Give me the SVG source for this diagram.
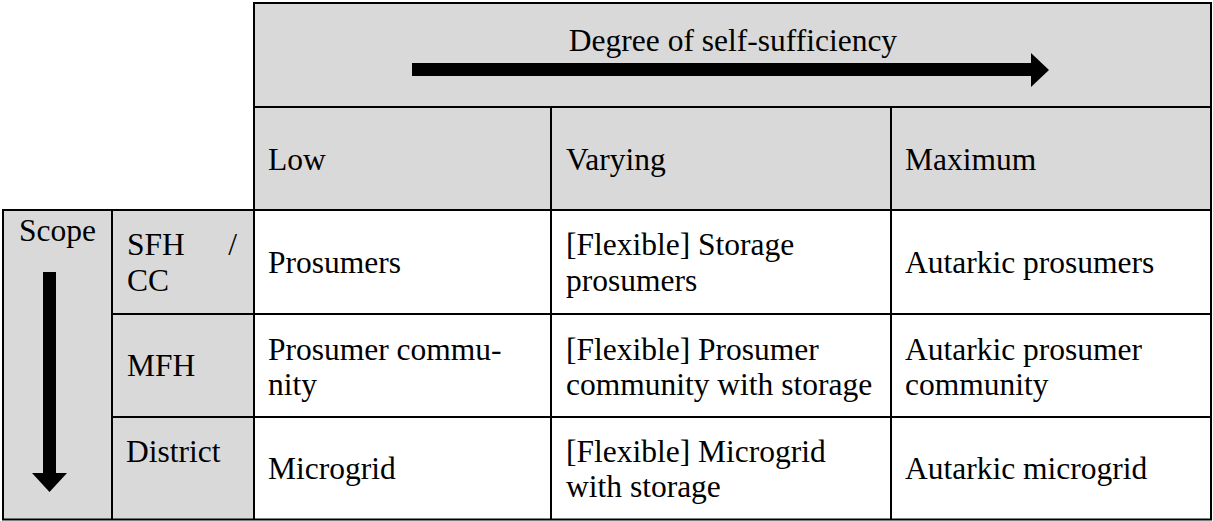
<svg xmlns="http://www.w3.org/2000/svg" width="1213" height="521" viewBox="0 0 1213 521">
<style>
.g{fill:#d9d9d9}
.w{fill:#ffffff}
.ln{stroke:#000;stroke-width:2;fill:none}
.t{font-family:"Liberation Serif","Times New Roman",serif;font-size:31.5px;fill:#000}
.ar{fill:#000}
</style>
<rect x="0" y="0" width="1213" height="521" fill="#ffffff"/>
<g id="header">
<rect class="g" x="254" y="3" width="957" height="207"/>
<text class="t" x="733" y="51" text-anchor="middle">Degree of self-sufficiency</text>
</g>
<g id="col-low"><text class="t" x="268" y="170">Low</text></g>
<g id="col-varying"><text class="t" x="566" y="170">Varying</text></g>
<g id="col-maximum"><text class="t" x="905" y="170">Maximum</text></g>
<g id="scope">
<rect class="g" x="3" y="210" width="251" height="310"/>
<text class="t" x="19" y="241">Scope</text>
</g>
<g id="row-sfh">
<text class="t" x="127" y="255">SFH</text><text class="t" x="237" y="255" text-anchor="end">/</text>
<text class="t" x="127" y="291">CC</text>
</g>
<g id="row-mfh"><text class="t" x="127" y="376">MFH</text></g>
<g id="row-district"><text class="t" x="126" y="462">District</text></g>
<g id="body">
<rect class="w" x="254" y="210" width="957" height="310"/>
</g>
<g id="cell-prosumers"><text class="t" x="268" y="273">Prosumers</text></g>
<g id="cell-storage-prosumers"><text class="t" x="566" y="255">[Flexible] Storage</text><text class="t" x="566" y="291">prosumers</text></g>
<g id="cell-autarkic-prosumers"><text class="t" x="905" y="273">Autarkic prosumers</text></g>
<g id="cell-prosumer-community"><text class="t" x="268" y="360">Prosumer commu-</text><text class="t" x="268" y="395">nity</text></g>
<g id="cell-flex-community"><text class="t" x="566" y="360">[Flexible] Prosumer</text><text class="t" x="566" y="395">community with storage</text></g>
<g id="cell-autarkic-community"><text class="t" x="905" y="360">Autarkic prosumer</text><text class="t" x="905" y="395">community</text></g>
<g id="cell-microgrid"><text class="t" x="268" y="479">Microgrid</text></g>
<g id="cell-flex-microgrid"><text class="t" x="566" y="462">[Flexible] Microgrid</text><text class="t" x="566" y="497">with storage</text></g>
<g id="cell-autarkic-microgrid"><text class="t" x="905" y="479">Autarkic microgrid</text></g>
<g id="grid">
<rect class="ln" x="254" y="3" width="957" height="207"/>
<rect class="ln" x="3" y="210" width="1208" height="309.5"/>
<line class="ln" x1="254" y1="107" x2="1211" y2="107"/>
<line class="ln" x1="112" y1="210" x2="112" y2="520"/>
<line class="ln" x1="254" y1="210" x2="254" y2="520"/>
<line class="ln" x1="551" y1="107" x2="551" y2="520"/>
<line class="ln" x1="891" y1="107" x2="891" y2="520"/>
<line class="ln" x1="112" y1="314" x2="1211" y2="314"/>
<line class="ln" x1="112" y1="417" x2="1211" y2="417"/>
</g>
<g id="connectors">
<polygon class="ar" points="412,63 1031,63 1031,53 1049,70 1031,87 1031,76 412,76"/>
<polygon class="ar" points="43,272 56,272 56,473 67,473 49.5,492 32,473 43,473"/>
</g>
</svg>
